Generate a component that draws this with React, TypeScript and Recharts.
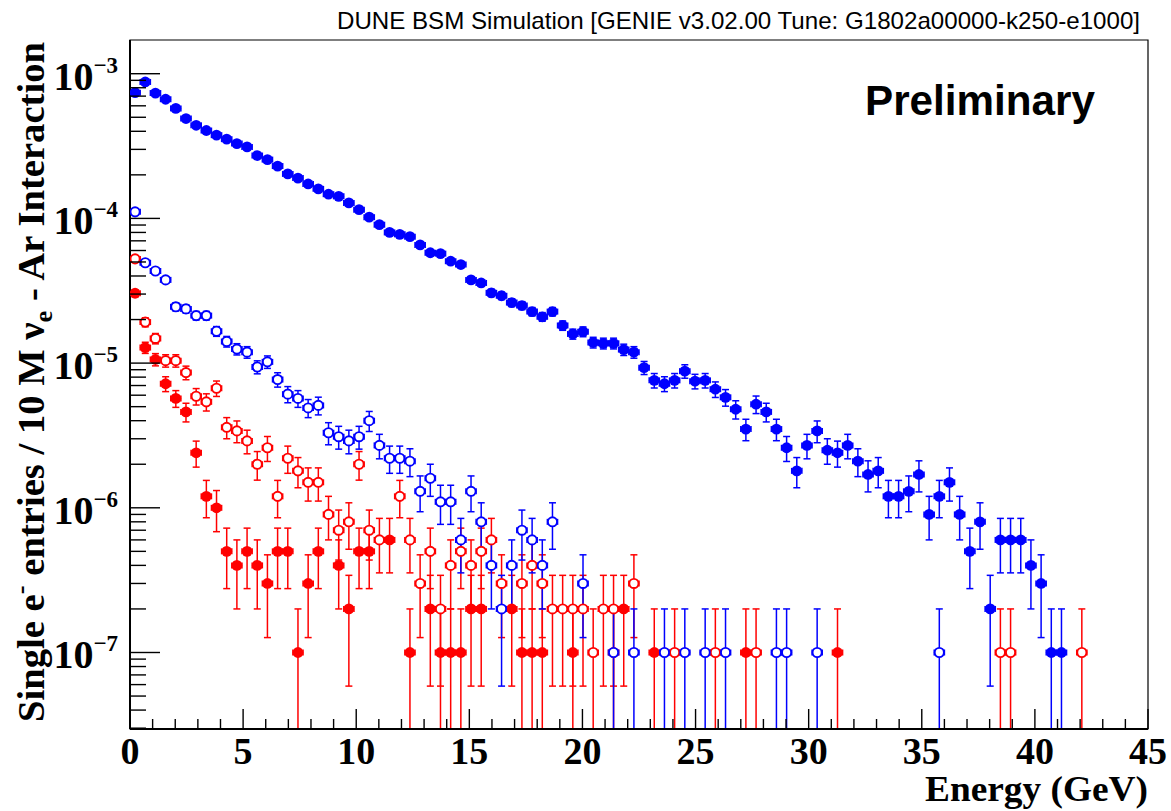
import React from 'react';
import { ScatterChart, Scatter, XAxis, YAxis, ErrorBar, ReferenceArea } from 'recharts';

// histogram: 100 bins over 0-45 GeV, one entry = 1 event / 10 M interactions
const BIN_WIDTH = 0.45;
const UNIT = 1e-7;
const Y_MIN = 2.96e-8;
const Y_MAX = 1.71e-3;

// entries per bin (in units of 1e-7)
const blueFilled = [
  7400, 8770, 7350, 6660, 5760, 4900, 4400, 4050, 3760, 3530,
  3290, 3120, 2720, 2550, 2300, 2030, 1900, 1730, 1600, 1470,
  1420, 1280, 1150, 1020, 905, 800, 776, 748, 656, 579,
  571, 506, 480, 376, 358, 306, 292, 262, 250, 227,
  209, 227, 182, 159, 165, 139, 137, 137, 124, 119,
  93, 76, 72, 76, 88, 75, 76, 66, 58, 48,
  35, 52, 46, 35, 26, 18, 27, 34, 25, 24,
  27, 21, 17, 18, 12, 12, 13, 17, 9, 12,
  15, 9, 5, 8, 2, 6, 6, 6, 4, 3,
  1, 1,
];

const blueOpen = [
  1110, 494, 433, 376, 245, 237, 213, 213, 166, 141,
  125, 119, 94, 102, 77, 61, 57, 49, 51, 33,
  31, 29, 31, 40, 27, 22, 22, 21, 13, 16,
  11, 11, 6, 13, 8, 4, 2, 4, 7, 6,
  4, 8, 0, 0, 3, 0, 0, 1, 0, 1,
  0, 0, 1, 0, 1, 0, 1, 0, 1, 0,
  0, 0, 0, 1, 1, 0, 0, 1, 0, 0,
  0, 0, 0, 0, 0, 0, 0, 0, 0, 1,
];

const redFilled = [
  304, 128, 106, 72, 57, 46, 24, 12, 10, 5,
  4, 5, 4, 3, 5, 5, 1, 3, 5, 0,
  4, 2, 5, 5, 0, 6, 0, 1, 0, 2,
  1, 1, 1, 2, 2, 0, 0, 2, 1, 1,
  1, 0, 0, 1, 0, 0, 0, 1, 2, 0,
  0, 1, 0, 0, 0, 0, 0, 0, 0, 0,
  1, 0, 0, 0, 0, 0, 0, 0, 0, 1,
];

const redOpen = [
  525, 192, 148, 104, 104, 86, 59, 54, 67, 36,
  34, 29, 20, 26, 12, 22, 18, 15, 15, 9,
  7, 8, 20, 7, 6, 0, 12, 6, 3, 5,
  2, 4, 5, 4, 5, 6, 3, 0, 3, 4,
  3, 2, 2, 2, 2, 1, 2, 2, 0, 3,
  0, 0, 0, 1, 0, 0, 0, 1, 0, 0,
  0, 1, 0, 0, 0, 0, 0, 0, 0, 0,
  0, 0, 0, 0, 0, 0, 0, 0, 0, 0,
  0, 0, 0, 0, 0, 1, 1, 0, 0, 0,
  0, 0, 0, 1,
];

const xTicks = [
  0, 1, 2, 3, 4, 5, 6, 7, 8, 9, 10, 11, 12, 13, 14, 15, 16, 17, 18, 19, 20, 21, 22,
  23, 24, 25, 26, 27, 28, 29, 30, 31, 32, 33, 34, 35, 36, 37, 38, 39, 40, 41, 42, 43, 44, 45,
];
const yTicks = [
  3e-8, 4e-8, 5e-8, 6e-8, 7e-8, 8e-8, 9e-8,
  1e-7, 2e-7, 3e-7, 4e-7, 5e-7, 6e-7, 7e-7, 8e-7, 9e-7,
  1e-6, 2e-6, 3e-6, 4e-6, 5e-6, 6e-6, 7e-6, 8e-6, 9e-6,
  1e-5, 2e-5, 3e-5, 4e-5, 5e-5, 6e-5, 7e-5, 8e-5, 9e-5,
  1e-4, 2e-4, 3e-4, 4e-4, 5e-4, 6e-4, 7e-4, 8e-4, 9e-4,
  1e-3,
];

const BLUE = '#0000ff';
const RED = '#ff0000';
const SERIF = '"Liberation Serif", "Times New Roman", serif';
const SANS = '"Liberation Sans", Arial, sans-serif';

// sqrt(N) errors, lower end clipped at the frame bottom
const toPoints = (counts: number[]) =>
  counts
    .map((n, i) => ({ n, i }))
    .filter((d) => d.n > 0)
    .map(({ n, i }) => {
      const y = n * UNIT;
      const err = Math.sqrt(n) * UNIT;
      const low = Math.min(err, y - Y_MIN);
      return { x: (i + 0.5) * BIN_WIDTH, y, ey: [low, err], ex: BIN_WIDTH / 2 };
    });

const getEy = (d: any) => d.ey ?? d.payload?.ey;
const getEx = (d: any) => d.ex ?? d.payload?.ex;

const filledDot = (color: string) => (p: any) => (
  <circle cx={p.cx} cy={p.cy} r={5.4} fill={color} />
);
const openDot = (color: string) => (p: any) => (
  <circle cx={p.cx} cy={p.cy} r={4.6} fill="#fff" stroke={color} strokeWidth={1.9} />
);

const YTick = (props: any) => {
  const { x, y, payload } = props;
  const v = payload.value;
  const exp = Math.round(Math.log10(v));
  const major = Math.abs(v / Math.pow(10, exp) - 1) < 1e-6;
  return (
    <g>
      <line x1={x} x2={x + (major ? 30 : 16)} y1={y} y2={y} stroke="#000" strokeWidth={1.4} />
      {major && (
        <text x={x - 12} y={y + 16} textAnchor="end" fontFamily={SERIF} fontWeight="bold" fontSize={40} fill="#000">
          10
          <tspan dy={-17} fontSize={23}>{'\u2212' + Math.abs(exp)}</tspan>
        </text>
      )}
    </g>
  );
};

const XTick = (props: any) => {
  const { x, y, payload } = props;
  const v = payload.value;
  const major = v % 5 === 0;
  return (
    <g>
      <line x1={x} x2={x} y1={y} y2={y - (major ? 20 : 10)} stroke="#000" strokeWidth={1.4} />
      {major && (
        <text x={x} y={y + 35} textAnchor="middle" fontFamily={SERIF} fontWeight="bold" fontSize={38} fill="#000">
          {v}
        </text>
      )}
    </g>
  );
};

const series = [
  { name: 'redFilled', data: toPoints(redFilled), color: RED, shape: filledDot(RED) },
  { name: 'redOpen', data: toPoints(redOpen), color: RED, shape: openDot(RED) },
  { name: 'blueFilled', data: toPoints(blueFilled), color: BLUE, shape: filledDot(BLUE) },
  { name: 'blueOpen', data: toPoints(blueOpen), color: BLUE, shape: openDot(BLUE) },
];

export default function App() {
  return (
    <div style={{ position: 'absolute', left: 0, top: 0, width: 1171, height: 811, background: '#fff' }}>
      <ScatterChart width={1171} height={811} margin={{ top: 40, right: 23, bottom: 0, left: 0 }}>
        <XAxis
          type="number"
          dataKey="x"
          domain={[0, 45]}
          ticks={xTicks}
          interval={0}
          allowDataOverflow
          height={82}
          tickSize={0}
          tickMargin={0}
          tick={<XTick />}
          axisLine={{ stroke: '#000', strokeWidth: 2 }}
        />
        <YAxis
          type="number"
          dataKey="y"
          scale="log"
          domain={[Y_MIN, Y_MAX]}
          ticks={yTicks}
          interval={0}
          allowDataOverflow
          width={130}
          tickSize={0}
          tickMargin={0}
          tick={<YTick />}
          axisLine={{ stroke: '#000', strokeWidth: 2 }}
        />
        <ReferenceArea x1={0} x2={45} y1={Y_MIN} y2={Y_MAX} fill="none" stroke="#000" strokeWidth={1.2} />
        {series.map((s) => (
          <Scatter key={s.name} name={s.name} data={s.data} shape={s.shape} isAnimationActive={false}>
            <ErrorBar dataKey={getEy} direction="y" width={3.5} stroke={s.color} strokeWidth={1.5} isAnimationActive={false} />
            <ErrorBar dataKey={getEx} direction="x" width={3} stroke={s.color} strokeWidth={1.5} isAnimationActive={false} />
          </Scatter>
        ))}
      </ScatterChart>
      <svg width={1171} height={811} style={{ position: 'absolute', left: 0, top: 0, pointerEvents: 'none' }}>
        <text x={1140} y={29} textAnchor="end" fontFamily={SANS} fontSize={24} textLength={803} lengthAdjust="spacingAndGlyphs" fill="#000">
          DUNE BSM Simulation [GENIE v3.02.00 Tune: G1802a00000-k250-e1000]
        </text>
        <text x={865} y={115} fontFamily={SANS} fontWeight="bold" fontSize={42} textLength={230} lengthAdjust="spacingAndGlyphs" fill="#000">
          Preliminary
        </text>
        <text x={1148} y={801} textAnchor="end" fontFamily={SERIF} fontWeight="bold" fontSize={35} textLength={223} lengthAdjust="spacingAndGlyphs" fill="#000">
          Energy (GeV)
        </text>
        <g transform="translate(44, 382) rotate(-90)">
          <text x={0} y={0} textAnchor="middle" fontFamily={SERIF} fontWeight="bold" fontSize={38} textLength={680} lengthAdjust="spacingAndGlyphs" fill="#000">
            Single e<tspan dy={-15} fontSize={26}>-</tspan>
            <tspan dy={15}> entries / 10 M  {'\u03bd'}</tspan>
            <tspan dy={8} fontSize={26}>e</tspan>
            <tspan dy={-8}> - Ar Interaction</tspan>
          </text>
        </g>
      </svg>
    </div>
  );
}
